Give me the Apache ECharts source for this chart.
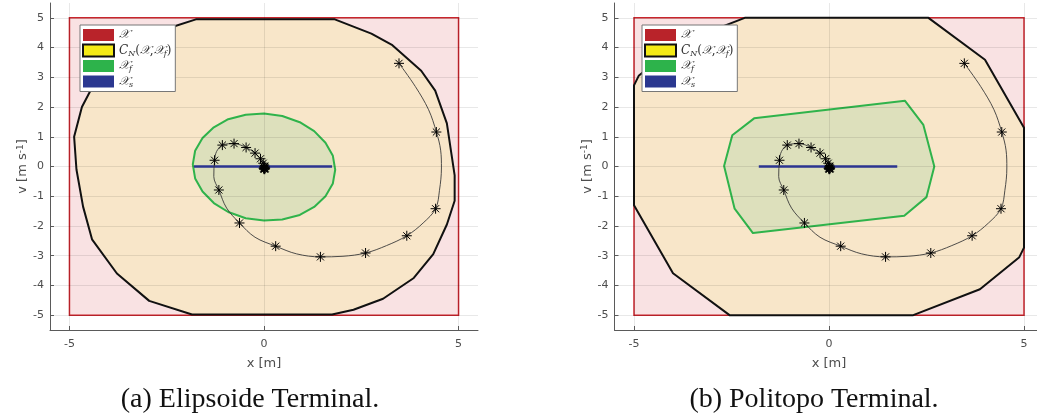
<!DOCTYPE html>
<html><head><meta charset="utf-8">
<script src="https://cdn.jsdelivr.net/npm/echarts@6/dist/echarts.min.js"></script>
<style>html,body{margin:0;padding:0;background:#fff}#c{width:1037px;height:417px}</style>
</head><body><div id="c"></div>
<script>
// ---------- data ----------
const X_TICKS = [-5, 0, 5];
const Y_TICKS = [-5, -4, -3, -2, -1, 0, 1, 2, 3, 4, 5];
const X_SET = [[-5, -5], [5, -5], [5, 5], [-5, 5]];
const CN_ELLIPSOID = [[-2.30,4.72],[-1.75,4.95],[1.82,4.95],[2.76,4.47],[3.30,4.08],[4.04,3.22],[4.40,2.55],[4.70,1.45],[4.82,0.40],[4.90,-0.30],[4.90,-1.15],[4.70,-1.95],[4.35,-2.95],[3.85,-3.75],[3.06,-4.45],[2.30,-4.82],[1.75,-4.98],[-1.85,-4.98],[-2.95,-4.52],[-3.78,-3.60],[-4.42,-2.45],[-4.65,-1.35],[-4.82,-0.10],[-4.88,1.00],[-4.68,2.00],[-4.32,2.90],[-3.85,3.75],[-3.15,4.40]];
const XF_ELLIPSOID = [[1.83,-0.11],[1.77,0.36],[1.58,0.80],[1.29,1.19],[0.92,1.49],[0.47,1.70],[0,1.78],[-0.47,1.74],[-0.92,1.59],[-1.29,1.32],[-1.58,0.96],[-1.77,0.53],[-1.83,0.07],[-1.77,-0.40],[-1.58,-0.84],[-1.29,-1.23],[-0.92,-1.53],[-0.47,-1.74],[0,-1.82],[0.47,-1.78],[0.92,-1.63],[1.29,-1.36],[1.58,-1.00],[1.77,-0.57]];
const CN_POLYTOPE = [[-5,2.73],[-4.88,3.05],[-3.87,4.13],[-2.16,5],[2.55,5],[4.0,3.59],[5,1.30],[5,-2.73],[4.88,-3.05],[3.87,-4.13],[2.16,-5],[-2.55,-5],[-4.0,-3.59],[-5,-1.30]];
const XF_POLYTOPE = [[-1.92,1.62],[1.95,2.21],[2.42,1.40],[2.70,0.0],[2.50,-1.03],[1.93,-1.66],[-1.95,-2.24],[-2.42,-1.42],[-2.69,0.02],[-2.48,1.05]];
const XS_SEGMENT = [[-1.80, 0], [1.75, 0]];
// sampled states (asterisks)
const TRAJ_SAMPLES = [[3.47,3.47],[4.43,1.16],[4.41,-1.42],[3.67,-2.33],[2.61,-2.91],[1.45,-3.04],[0.30,-2.68],[-0.63,-1.90],[-1.16,-0.79],[-1.27,0.21],[-1.07,0.72],[-0.77,0.77],[-0.46,0.64],[-0.23,0.45],[-0.09,0.26],[-0.02,0.11],[0.02,0.01],[0.03,-0.05],[0.02,-0.09],[0.0,-0.09],[-0.01,-0.06],[0.01,-0.03],[0.02,-0.06],[0.01,-0.07]];
// continuous trajectory
const TRAJ_CURVE = [[3.47,3.47],[3.89,2.69],[4.23,1.91],[4.43,1.16],[4.54,0.55],[4.56,-0.05],[4.51,-0.80],[4.41,-1.42],[4.09,-1.90],[3.67,-2.33],[3.15,-2.66],[2.61,-2.91],[2.03,-3.02],[1.45,-3.04],[0.84,-2.94],[0.30,-2.68],[-0.23,-2.38],[-0.63,-1.90],[-0.96,-1.40],[-1.16,-0.79],[-1.29,-0.34],[-1.27,0.21],[-1.22,0.50],[-1.07,0.72],[-0.77,0.77],[-0.46,0.64],[-0.23,0.45],[-0.09,0.26],[-0.02,0.11],[0.02,0.01],[0.03,-0.05],[0.02,-0.09],[0.0,-0.09],[-0.01,-0.06],[0.01,-0.03]];
const CAPTIONS = ['(a) Elipsoide Terminal.', '(b) Politopo Terminal.'];
const X_LABEL = 'x [m]';
const Y_LABEL = 'v [m s{sup|-1}]';

// ---------- style / layout ----------
const GRID_C = 'rgba(0,0,0,0.09)';
const AX_C = '#5a5a5a';
const LBL_C = '#4d4d4d';
const CAL = '\u{1D4B3}';
const panels = [
  { outer: { left: 50, top: 3, width: 428, height: 327 }, cn: CN_ELLIPSOID, xf: XF_ELLIPSOID, legendLeft: 80, capX: 250 },
  { outer: { left: 614.5, top: 3, width: 429, height: 327 }, cn: CN_POLYTOPE, xf: XF_POLYTOPE, legendLeft: 642, capX: 814 }
];

const grids = [], xAxes = [], yAxes = [], series = [], legends = [], graphics = [];
const xMin = X_TICKS[0], xMax = X_TICKS[X_TICKS.length - 1];
const yMin = Y_TICKS[0], yMax = Y_TICKS[Y_TICKS.length - 1];
const pad = 0.5;

const xSplitColors = [];
for (let i = 0; i < 10; i++) xSplitColors.push(i === 1 ? GRID_C : 'rgba(0,0,0,0)');
const ySplitColors = ['rgba(0,0,0,0)', GRID_C];

function poly(name, pts, ai, style, z) {
  return {
    type: 'custom', name, xAxisIndex: ai, yAxisIndex: ai, data: pts, z, silent: true,
    renderItem(params, api) {
      if (params.dataIndex !== 0) return null;
      return { type: 'polygon', shape: { points: pts.map(p => api.coord(p)) }, style: Object.assign({}, style) };
    }
  };
}

const legendFmt = function (name) {
  if (name === 'X') return '{i|' + CAL + '}';
  if (name === 'CN') return '{i|C}{s|N}{r|(}{i|' + CAL + '}{r|,}{i|' + CAL + '}{s|f}{r|)}';
  if (name === 'Xf') return '{i|' + CAL + '}{s|f}';
  return '{i|' + CAL + '}{s|s}';
};
const legendRich = {
  i: { fontFamily: 'DejaVu Serif', fontStyle: 'italic', fontSize: 12, color: '#333', lineHeight: 14 },
  r: { fontFamily: 'DejaVu Serif', fontSize: 12, color: '#333', lineHeight: 14 },
  s: { fontFamily: 'DejaVu Serif', fontStyle: 'italic', fontSize: 8, color: '#333', lineHeight: 14, verticalAlign: 'bottom' }
};
const legendItems = [
  { name: 'X', icon: 'rect', itemStyle: { color: '#b9232a', borderWidth: 0 } },
  { name: 'CN', icon: 'rect', itemStyle: { color: '#f4ea16', borderColor: '#111', borderWidth: 2 } },
  { name: 'Xf', icon: 'rect', itemStyle: { color: '#2db34b', borderWidth: 0 } },
  { name: 'Xs', icon: 'rect', itemStyle: { color: '#2b3890', borderWidth: 0 } }
];

panels.forEach((p, k) => {
  const o = p.outer;
  const ux = o.width / (xMax - xMin + 2 * pad), uy = o.height / (yMax - yMin + 2 * pad);
  const inner = { left: o.left + pad * ux, top: o.top + pad * uy, width: (xMax - xMin) * ux, height: (yMax - yMin) * uy };
  const gi = grids.length;
  grids.push(Object.assign({ outerBoundsMode: 'none', containLabel: false }, o));
  grids.push(Object.assign({ outerBoundsMode: 'none', containLabel: false }, inner));
  xAxes.push({ gridIndex: gi, type: 'value', min: xMin - pad, max: xMax + pad, interval: pad, z: 2,
    axisLine: { show: true, onZero: false, lineStyle: { color: AX_C, width: 1 } },
    axisTick: { show: false }, axisLabel: { show: false },
    splitLine: { show: true, lineStyle: { color: xSplitColors, width: 1 } } });
  yAxes.push({ gridIndex: gi, type: 'value', min: yMin - pad, max: yMax + pad, interval: pad, z: 2,
    axisLine: { show: true, onZero: false, lineStyle: { color: AX_C, width: 1 } },
    axisTick: { show: false }, axisLabel: { show: false },
    splitLine: { show: true, lineStyle: { color: ySplitColors, width: 1 } } });
  xAxes.push({ gridIndex: gi + 1, type: 'value', min: xMin, max: xMax, interval: X_TICKS[1] - X_TICKS[0], z: 2,
    offset: pad * uy,
    axisLine: { show: false, onZero: false },
    axisTick: { show: true, inside: true, length: 4, lineStyle: { color: AX_C } },
    axisLabel: { color: LBL_C, fontSize: 11, fontFamily: 'DejaVu Sans', margin: 9 },
    splitLine: { show: false },
    name: X_LABEL, nameLocation: 'middle', nameGap: 27,
    nameTextStyle: { color: LBL_C, fontSize: 13, fontFamily: 'DejaVu Sans' } });
  yAxes.push({ gridIndex: gi + 1, type: 'value', min: yMin, max: yMax, interval: Y_TICKS[1] - Y_TICKS[0], z: 2,
    offset: pad * ux,
    axisLine: { show: false, onZero: false },
    axisTick: { show: true, inside: true, length: 4, lineStyle: { color: AX_C } },
    axisLabel: { color: LBL_C, fontSize: 11, fontFamily: 'DejaVu Sans', margin: 6 },
    splitLine: { show: false },
    name: Y_LABEL, nameLocation: 'middle', nameGap: 20, nameRotate: 90,
    nameTextStyle: { color: LBL_C, fontSize: 13, fontFamily: 'DejaVu Sans',
      rich: { sup: { fontSize: 9, color: LBL_C, fontFamily: 'DejaVu Sans', verticalAlign: 'top', lineHeight: 10 } } } });

  series.push(poly('X', X_SET, gi, { fill: '#f9e2e3', stroke: '#c9252c', lineWidth: 1.5 }, 1));
  series.push(poly('CN', p.cn, gi, { fill: '#f8e6c9', stroke: '#111', lineWidth: 2, lineJoin: 'round' }, 1));
  series.push(poly('Xf', p.xf, gi, { fill: '#dde0bc', stroke: '#2fb34b', lineWidth: 2, lineJoin: 'round' }, 1));
  series.push({ type: 'line', name: 'Xs', xAxisIndex: gi, yAxisIndex: gi, data: XS_SEGMENT, z: 3, silent: true,
    showSymbol: false, lineStyle: { color: '#2b3590', width: 2.5 }, itemStyle: { color: '#2b3890' } });
  series.push({ type: 'line', name: 'traj', xAxisIndex: gi, yAxisIndex: gi, data: TRAJ_CURVE, z: 4, silent: true,
    smooth: 0.35, showSymbol: false,
    lineStyle: { color: '#3a3a3a', width: 0.9 }, itemStyle: { color: '#3a3a3a' } });
  series.push({ type: 'scatter', name: 'samples', xAxisIndex: gi, yAxisIndex: gi, data: TRAJ_SAMPLES, z: 5, silent: true,
    symbol: 'path://M5 0L5 10M0 5L10 5M1.46 1.46L8.54 8.54M1.46 8.54L8.54 1.46', symbolSize: 10,
    itemStyle: { color: '#000', borderColor: '#000', borderWidth: 1, opacity: 1 } });

  legends.push({ left: p.legendLeft, top: 25, orient: 'vertical', itemWidth: 31, itemHeight: 12, itemGap: 2.5,
    padding: [4, 4, 3, 2], backgroundColor: '#fff', borderColor: '#777', borderWidth: 1, borderRadius: 0,
    selectedMode: false, z: 10, data: legendItems, formatter: legendFmt,
    textStyle: { color: '#333', fontSize: 12, rich: legendRich } });

  graphics.push({ type: 'text', x: p.capX, y: 400, z: 10,
    style: { text: CAPTIONS[k], font: '28px "Liberation Serif"', fill: '#111', align: 'center', verticalAlign: 'middle',
      textAlign: 'center', textVerticalAlign: 'middle' } });
});

const chart = echarts.init(document.getElementById('c'), null, { renderer: 'canvas' });
chart.setOption({
  animation: false,
  backgroundColor: '#fff',
  grid: grids, xAxis: xAxes, yAxis: yAxes, series, legend: legends, graphic: graphics
});
</script></body></html>
